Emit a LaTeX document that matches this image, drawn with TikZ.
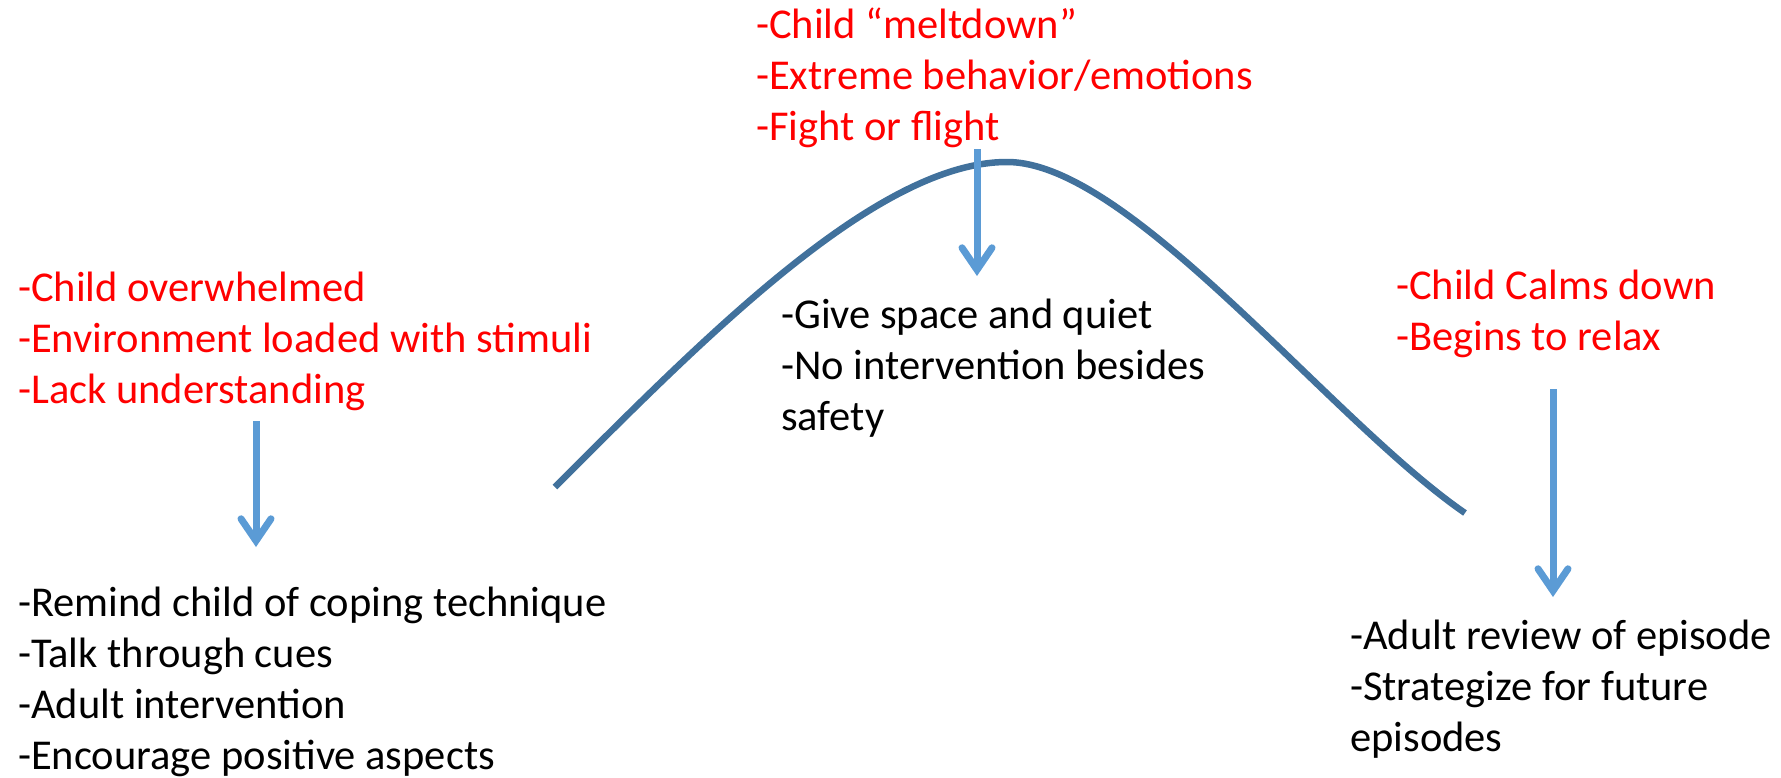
\documentclass[tikz,border=0pt]{standalone}
\usepackage{fontspec}
\setmainfont{Carlito}
\usetikzlibrary{arrows.meta}
\definecolor{curveblue}{RGB}{65,113,156}
\definecolor{arrowblue}{RGB}{91,155,213}
\definecolor{txtred}{RGB}{255,0,0}
\begin{document}
\begin{tikzpicture}[x=1pt,y=-1pt,
  txt/.style={anchor=base west,inner sep=0pt,font=\fontsize{42.5}{51}\selectfont},
  redtxt/.style={txt,text=txtred},
  blacktxt/.style={txt,text=black},
  curve/.style={draw=curveblue,line width=6.5pt},
  downarrow/.style={draw=arrowblue,line width=7pt,
    -{Straight Barb[length=22pt,width=30pt,line cap=round,line join=miter]}}]
\useasboundingbox (0,0) rectangle (1781,777);
% text blocks
\node[redtxt] (toptext) at (756,38) {\vtop{\hbox{-Child “meltdown”}\hbox{-Extreme behavior/emotions}\hbox{-Fight or flight}}};
\node[redtxt] (lefttop) at (18,301) {\vtop{\hbox{-Child overwhelmed}\hbox{-Environment loaded with stimuli}\hbox{-Lack understanding}}};
\node[blacktxt] (leftbot) at (18,616) {\vtop{\hbox{-Remind child of coping technique}\hbox{-Talk through cues}\hbox{-Adult intervention}\hbox{-Encourage positive aspects}}};
\node[blacktxt] (midtext) at (781,328) {\vtop{\hbox{-Give space and quiet}\hbox{-No intervention besides}\hbox{safety}}};
\node[redtxt] (righttop) at (1396,299) {\vtop{\hbox{-Child Calms down}\hbox{-Begins to relax}}};
\node[blacktxt] (rightbot) at (1350,649) {\vtop{\hbox{-Adult review of episode}\hbox{-Strategize for future}\hbox{episodes}}};
% curve
\coordinate (cstart) at (555,487);
\coordinate (cpeak) at (1007,162);
\coordinate (cend) at (1465,513);
\draw[curve] (cstart) .. controls (705,337) and (877,162) .. (cpeak)
  .. controls (1130,162) and (1330,420) .. (cend);
% arrows
\coordinate (a1s) at (256,421);
\coordinate (a1e) at (256,547);
\coordinate (a2s) at (977,149);
\coordinate (a2e) at (977,276);
\coordinate (a3s) at (1553,389);
\coordinate (a3e) at (1553,597);
\draw[downarrow] (a1s) -- (a1e);
\draw[downarrow] (a2s) -- (a2e);
\draw[downarrow] (a3s) -- (a3e);
\end{tikzpicture}
\end{document}
